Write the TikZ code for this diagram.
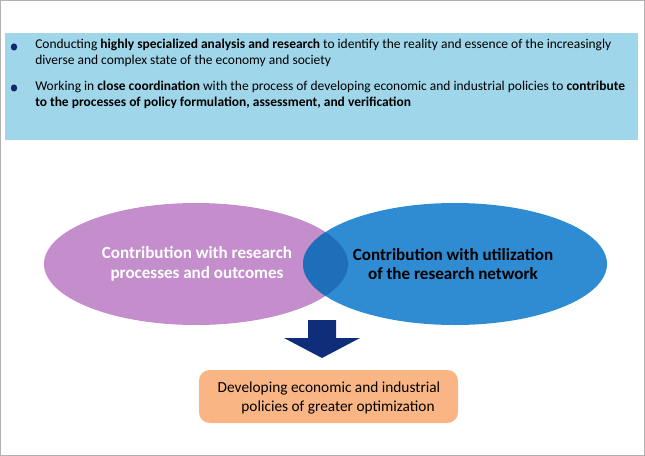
\documentclass[tikz,border=0pt]{standalone}
\usepackage{fontspec}
\setmainfont{Carlito}
\usetikzlibrary{shapes.geometric}
\begin{document}
\begin{tikzpicture}[x=0.75pt,y=-0.75pt,
  bulletdot/.style={ellipse,fill=bulletblue,inner sep=0pt,minimum width=4.8pt,minimum height=5.4pt},
  bullettext/.style={anchor=west,inner sep=0pt,align=left,font=\fontsize{10.1}{12}\selectfont},
  ovaltext/.style={align=center,font=\bfseries\fontsize{12.8}{14.5}\selectfont}]
\definecolor{panelblue}{RGB}{160,214,234}
\definecolor{bulletblue}{RGB}{20,40,110}
\definecolor{pinkoval}{RGB}{196,142,204}
\definecolor{blueoval}{RGB}{48,140,210}
\definecolor{overlapblue}{RGB}{30,110,185}
\definecolor{navy}{RGB}{15,45,120}
\definecolor{orangebox}{RGB}{249,182,132}
\useasboundingbox (0,0) rectangle (645,456);
\draw[gray!60,line width=0.75pt] (0.5,0.5) rectangle (644.5,455.5);
% panel
\fill[panelblue] (5,33) rectangle (638,140);
\node[bulletdot] (b1) at (14,47) {};
\node[bullettext] (t1) at (35,53) {Conducting \textbf{highly specialized analysis and research} to identify the reality and essence of the increasingly\\diverse and complex state of the economy and society};
\node[bulletdot] (b2) at (14,88) {};
\node[bullettext] (t2) at (35,95) {Working in \textbf{close coordination} with the process of developing economic and industrial policies to \textbf{contribute}\\\textbf{to the processes of policy formulation, assessment, and verification}};
% ovals
\fill[pinkoval] (196,264) ellipse [x radius=152, y radius=61];
\fill[blueoval] (455,264) ellipse [x radius=152, y radius=61];
\begin{scope}
\clip (196,264) ellipse [x radius=152, y radius=61];
\fill[overlapblue] (455,264) ellipse [x radius=152, y radius=61];
\end{scope}
\node[ovaltext,text=white] (o1) at (197,264) {Contribution with research\\processes and outcomes};
\node[ovaltext,text=black] (o2) at (453,264) {Contribution with utilization\\of the research network};
% arrow
\fill[navy] (308,320) -- (336,320) -- (336,338) -- (360,338) -- (322,358) -- (284,338) -- (308,338) -- cycle;
\coordinate (arr) at (322,358);
% result box
\fill[orangebox,rounded corners=8pt] (199,370) rectangle (458,423);
\node[font=\fontsize{11.5}{13}\selectfont,inner sep=0pt] (r1) at (329,388) {Developing economic and industrial};
\node[font=\fontsize{11.5}{13}\selectfont,inner sep=0pt] (r2) at (338,407) {policies of greater optimization};
\end{tikzpicture}
\end{document}
